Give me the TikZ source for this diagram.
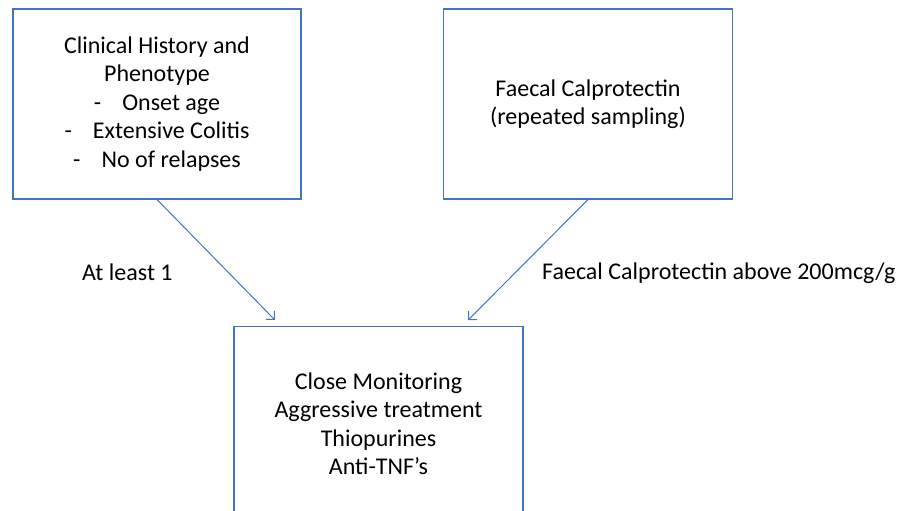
\documentclass[tikz,border=0pt]{standalone}
\usepackage{fontspec}
\setmainfont{Carlito}
\usepackage{xcolor}
\usetikzlibrary{positioning, calc, arrows.meta}
\definecolor{boxblue}{RGB}{68,114,196}

\begin{document}
\begin{tikzpicture}[x=1pt, y=-1pt,
        box/.style={draw=boxblue, line width=1.1pt, align=center, inner sep=0pt, font=\fontsize{24}{28.5}\selectfont},
        arr/.style={draw=boxblue, line width=1pt, -{Straight Barb[length=6pt,width=12pt]}, shorten >=8pt},
        lbl/.style={inner sep=0pt, anchor=base west, font=\fontsize{24}{28.5}\selectfont}]
        \useasboundingbox (0,0) rectangle (900,511);
        \clip (0,0) rectangle (900,511);
        \node[box, minimum width=288pt, minimum height=190pt] (hist) at (157,104) {Clinical History and\\Phenotype\\-\hspace{21pt}Onset age\\-\hspace{21pt}Extensive Colitis\\-\hspace{21pt}No of relapses};
        \node[box, minimum width=289pt, minimum height=190pt] (fc) at (588,104) {Faecal Calprotectin\\(repeated sampling)};
        \node[box, anchor=north, minimum width=289pt, minimum height=195pt] (treat) at (378.5,325.7) {Close Monitoring\\Aggressive treatment\\Thiopurines\\Anti-TNF’s};
        \coordinate (inL) at ([xshift=-98pt]treat.north);
        \coordinate (inR) at ([xshift=84pt]treat.north);
        \draw[arr] (hist.south) -- (inL);
        \draw[arr] (fc.south) -- (inR);
        \node[lbl] (least) at (82,280) {At least 1};
        \node[lbl] (above) at (542,279) {Faecal Calprotectin above 200mcg/g};
    \end{tikzpicture}
\end{document}
